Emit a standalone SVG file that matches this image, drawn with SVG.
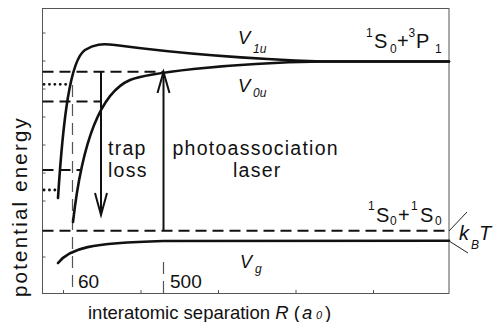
<svg xmlns="http://www.w3.org/2000/svg" width="493" height="322" viewBox="0 0 493 322">
<style>
text{font-family:"Liberation Sans",Arial,sans-serif;fill:#111}
.frame{fill:none;stroke:#555;stroke-width:1}
.tick{stroke:#555;stroke-width:1}
.curve{fill:none;stroke:#111;stroke-width:2.6;stroke-linecap:round}
.dash{fill:none;stroke:#111;stroke-width:2;stroke-dasharray:11 6}
.dot{fill:none;stroke:#111;stroke-width:2.8;stroke-linecap:round;stroke-dasharray:0.1 5.3}
.gdash{fill:none;stroke:#555;stroke-width:1.2;stroke-dasharray:12 7}
.arrow{fill:none;stroke:#111;stroke-width:2}
.thin{fill:none;stroke:#222;stroke-width:1}
.lbl{font-size:19.5px;letter-spacing:1.25px}
.it{font-style:italic}
.sm{font-size:12px}
</style>
<g id="axes">
<rect class="frame" x="42.5" y="8.5" width="406.5" height="285"/>
<path class="tick" d="M63.5,293 v-3 M141,293 v-3 M218.5,293 v-3 M296,293 v-3 M373.5,293 v-3 M42.5,33 h3 M42.5,61 h3 M42.5,89 h3 M42.5,117 h3 M42.5,145 h3 M42.5,173 h3 M42.5,201 h3 M42.5,257 h3"/>
</g>
<g id="levels">
<path class="dash" d="M42.5,71.7 H163"/>
<path class="dash" d="M42.5,101.5 H101"/>
<path class="dash" d="M42.5,170 H82"/>
<path class="dash" d="M42.5,230.7 H449"/>
<path class="dot" d="M44,84.3 H71"/>
<path class="dot" d="M44,190 H58"/>
<path class="gdash" d="M72.5,85 V293"/>
<path class="gdash" d="M163.5,262 V293"/>
</g>
<g id="V1u"><path class="curve" d="M58,198 C63,120 70,60 85,50 C94,44 102,43.5 115,45 C160,51 220,58 323,61.5 L449,61.5"/></g>
<g id="V0u"><path class="curve" d="M73,222 C80,160 95,95 130,80 C145,74 220,63 323,61.5 L449,61.5"/></g>
<g id="Vg"><path class="curve" d="M58,263 C70,248 90,243 163,241 L449,240.7"/></g>
<g id="connectors">
<path class="arrow" d="M101,72 V214"/>
<path class="arrow" d="M95,193 L101,215 L107,193"/>
<path class="arrow" d="M163.5,231 V73"/>
<path class="arrow" d="M157.5,93 L163.5,72 L169.5,93"/>
<path class="thin" d="M449,231 L467,212 M449,241 L468,253"/>
</g>
<g id="labels">
<text class="it" x="238" y="44" font-size="18.5">V</text><text class="it sm" x="253" y="52.5">1u</text>
<text class="it" x="238" y="92" font-size="18.5">V</text><text class="it sm" x="253" y="96.7">0u</text>
<text class="it" x="240" y="268" font-size="18">V</text><text class="it sm" x="255" y="273">g</text>
<text font-size="20"><tspan class="sm" x="366" y="37">1</tspan><tspan x="374" y="48">S</tspan><tspan class="sm" x="390" y="53">0</tspan><tspan x="397" y="48">+</tspan><tspan class="sm" x="408.5" y="37">3</tspan><tspan x="416" y="48">P</tspan><tspan class="sm" x="435" y="53">1</tspan></text>
<text font-size="20"><tspan class="sm" x="368" y="210">1</tspan><tspan x="376" y="222">S</tspan><tspan class="sm" x="390" y="225">0</tspan><tspan x="398" y="222">+</tspan><tspan class="sm" x="411" y="210">1</tspan><tspan x="420" y="222">S</tspan><tspan class="sm" x="435" y="225">0</tspan></text>
<text class="it" font-size="20"><tspan x="459" y="240">k</tspan><tspan class="sm" x="471" y="249">B</tspan><tspan x="479" y="240">T</tspan></text>
<text class="lbl" x="108" y="155">trap</text>
<text class="lbl" x="108" y="177">loss</text>
<text class="lbl" x="172.5" y="155">photoassociation</text>
<text class="lbl" x="233" y="177">laser</text>
<text x="78" y="288" font-size="19">60</text>
<text x="170" y="288" font-size="19">500</text>
<text transform="translate(27,206.5) rotate(-90)" text-anchor="middle" font-size="20.5" letter-spacing="2.2">potential energy</text>
<text x="88" y="318.5" font-size="18.5">interatomic separation <tspan class="it">R</tspan> (</text>
<text x="302" y="318.5" font-size="18.5" class="it">a</text><text x="316" y="319" class="it" font-size="11">0</text><text x="325" y="318.5" font-size="18.5">)</text>
</g>
</svg>
